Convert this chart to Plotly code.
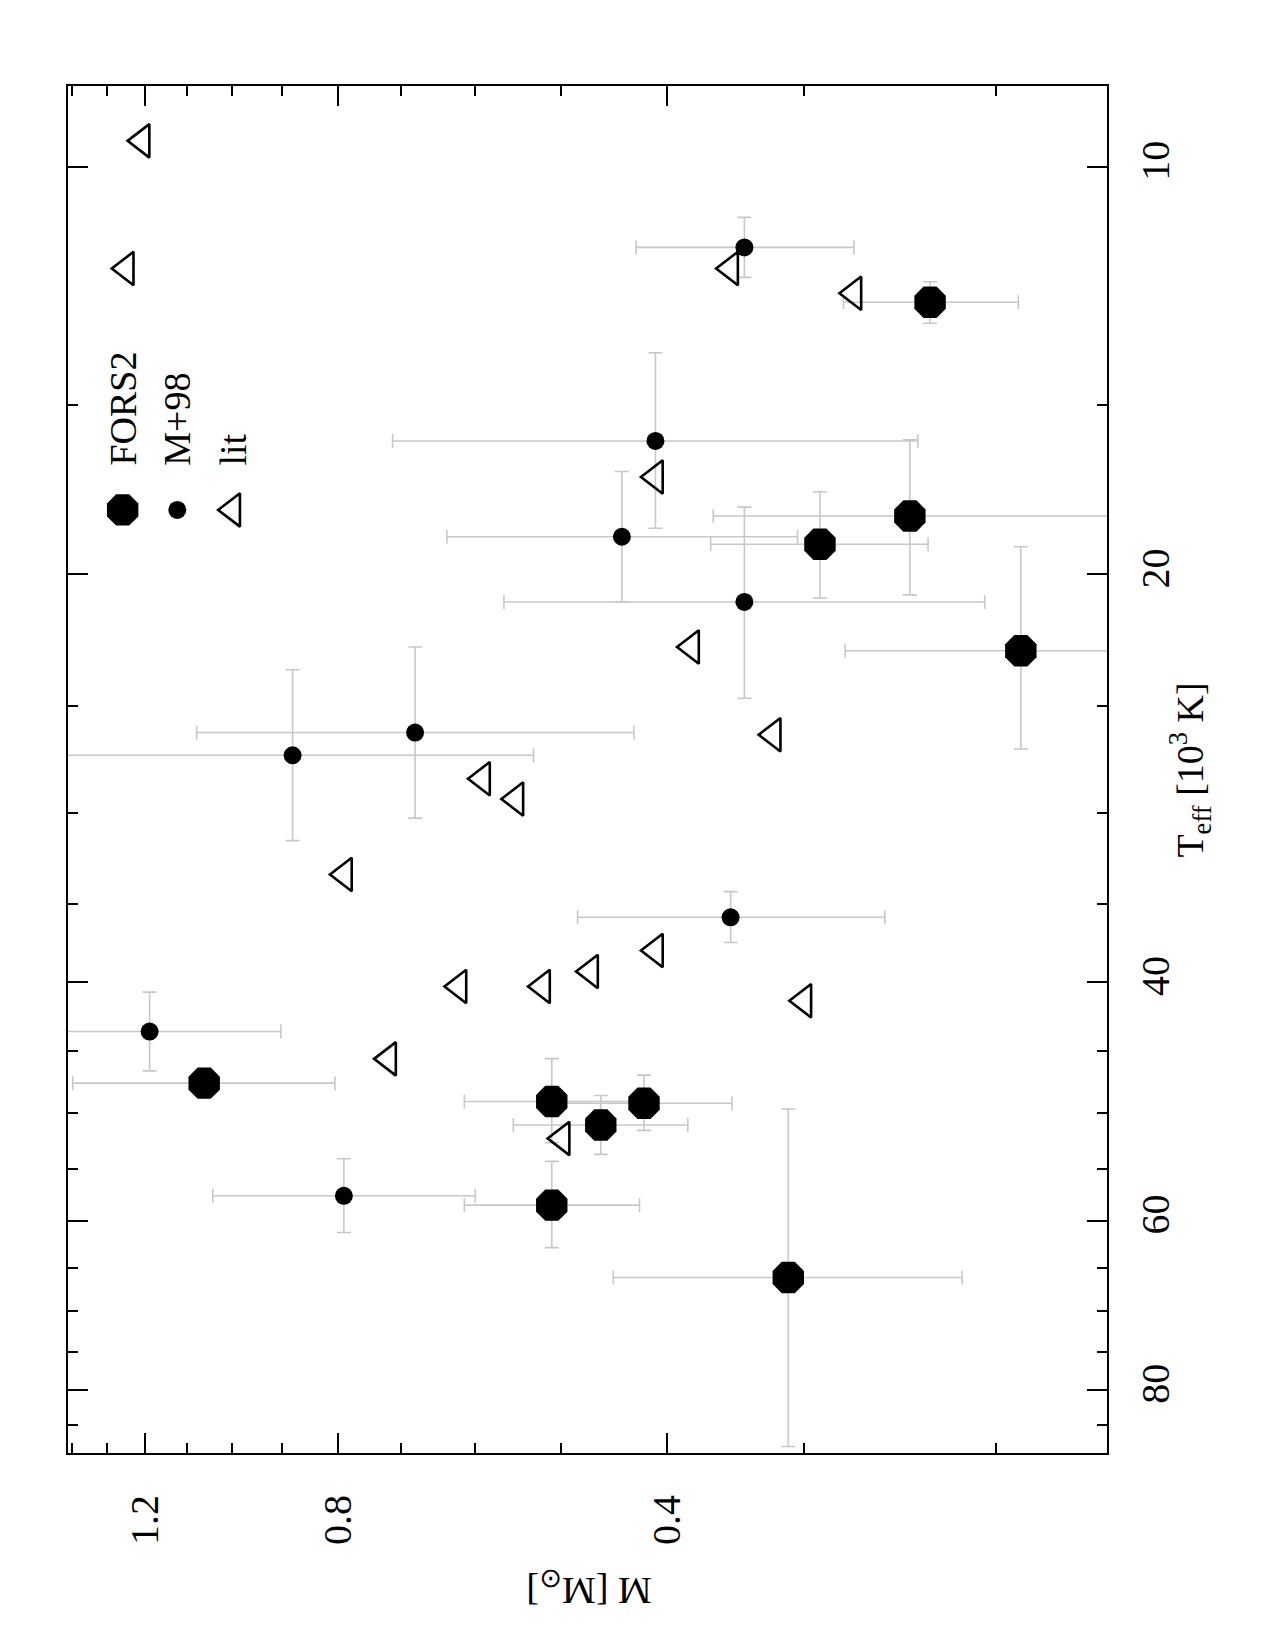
import plotly.graph_objects as go

# ---------------- data (M in solar masses, Teff in 10^3 K) ----------------
fors_M    = [0.230, 0.240, 0.290, 0.190, 1.060, 0.510, 0.420, 0.460, 0.510, 0.310]
fors_M_hi = [0.276, 0.363, 0.365, 0.275, 1.398, 0.613, 0.507, 0.553, 0.613, 0.448]
fors_M_lo = [0.191, 0.150, 0.231, 0.150, 0.805, 0.424, 0.349, 0.383, 0.424, 0.215]
fors_T    = [12.59, 18.11, 19.00, 22.77, 47.50, 49.00, 49.15, 51.00, 58.45, 66.10]
fors_T_lo = [12.16, 15.91, 17.38, 19.08, 47.50, 45.56, 46.86, 48.51, 54.26, 49.64]
fors_T_hi = [13.05, 20.71, 20.82, 26.91, 47.50, 52.56, 51.47, 53.62, 62.83, 88.10]

m98_M    = [0.340, 0.410, 0.440, 0.340, 0.680, 0.880, 0.350, 1.189, 0.790]
m98_M_hi = [0.427, 0.713, 0.636, 0.564, 1.077, 1.500, 0.483, 1.500, 1.041]
m98_M_lo = [0.270, 0.236, 0.304, 0.205, 0.429, 0.530, 0.253, 0.902, 0.599]
m98_T    = [11.47, 15.94, 18.76, 20.96, 26.17, 27.20, 35.83, 43.51, 57.53]
m98_T_lo = [10.90, 13.72, 16.79, 17.84, 22.63, 23.52, 34.30, 40.69, 54.01]
m98_T_hi = [12.07, 18.49, 20.95, 24.69, 30.27, 31.45, 37.40, 46.52, 61.23]

lit_M = [1.208, 1.249, 0.350, 0.270, 0.410, 0.380, 0.320, 0.590, 0.550,
         0.789, 0.410, 0.470, 0.520, 0.620, 0.300, 0.719, 0.499]
lit_T = [9.57, 11.89, 11.89, 12.40, 16.95, 22.63, 26.27, 28.31, 29.30,
         33.31, 37.91, 39.29, 40.30, 40.30, 41.29, 45.58, 52.18]

x_major = [1.2, 0.8, 0.4]
x_major_text = ["1.2", "0.8", "0.4"]
x_minor = [1.4, 1.3, 1.1, 1.0, 0.9, 0.7, 0.6, 0.5, 0.3, 0.2]
y_major = [10, 20, 40, 60, 80]
y_major_text = ["10", "20", "40", "60", "80"]
y_minor = [15, 25, 30, 35, 45, 50, 55, 65, 70, 75, 85]

legend_labels = ["FORS2", "M+98", "lit"]

FONT = "Liberation Serif"
ERRC = "#c8c8c8"


def errs(v, lo, hi):
    return [h - x for x, h in zip(v, hi)], [x - l for x, l in zip(v, lo)]


fig = go.Figure()

ex_p, ex_m = errs(fors_M, fors_M_lo, fors_M_hi)
ey_p, ey_m = errs(fors_T, fors_T_lo, fors_T_hi)
fig.add_trace(go.Scatter(
    x=fors_M, y=fors_T, mode="markers",
    marker=dict(symbol="octagon", size=34, color="black", line=dict(width=0)),
    error_x=dict(type="data", symmetric=False, array=ex_p, arrayminus=ex_m,
                 color=ERRC, thickness=1.6, width=7),
    error_y=dict(type="data", symmetric=False, array=ey_p, arrayminus=ey_m,
                 color=ERRC, thickness=1.6, width=7),
    showlegend=False))

ex_p, ex_m = errs(m98_M, m98_M_lo, m98_M_hi)
ey_p, ey_m = errs(m98_T, m98_T_lo, m98_T_hi)
fig.add_trace(go.Scatter(
    x=m98_M, y=m98_T, mode="markers",
    marker=dict(symbol="circle", size=18, color="black", line=dict(width=0)),
    error_x=dict(type="data", symmetric=False, array=ex_p, arrayminus=ex_m,
                 color=ERRC, thickness=1.6, width=7),
    error_y=dict(type="data", symmetric=False, array=ey_p, arrayminus=ey_m,
                 color=ERRC, thickness=1.6, width=7),
    showlegend=False))

fig.add_trace(go.Scatter(
    x=lit_M, y=lit_T, mode="markers",
    marker=dict(symbol="triangle-left-open", size=29, color="black",
                line=dict(width=2.6, color="black")),
    showlegend=False))

# legend symbols on an overlay (0..1) axis pair
leg_x = [0.0526, 0.1052, 0.1585]
leg_y = 0.6899
fig.add_trace(go.Scatter(x=[leg_x[0]], y=[leg_y], xaxis="x2", yaxis="y2", mode="markers",
                         marker=dict(symbol="octagon", size=34, color="black", line=dict(width=0)),
                         showlegend=False, hoverinfo="skip"))
fig.add_trace(go.Scatter(x=[leg_x[1]], y=[leg_y], xaxis="x2", yaxis="y2", mode="markers",
                         marker=dict(symbol="circle", size=18, color="black", line=dict(width=0)),
                         showlegend=False, hoverinfo="skip"))
fig.add_trace(go.Scatter(x=[leg_x[2]], y=[leg_y], xaxis="x2", yaxis="y2", mode="markers",
                         marker=dict(symbol="triangle-left-open", size=29, color="black",
                                     line=dict(width=2.6, color="black")),
                         showlegend=False, hoverinfo="skip"))

annotations = []
for lx, lab in zip(leg_x, legend_labels):
    annotations.append(dict(text=lab, x=lx, y=0.7206, xref="paper", yref="paper",
                            xanchor="center", yanchor="bottom", textangle=-90,
                            showarrow=False, font=dict(family=FONT, size=38, color="black")))
annotations.append(dict(text="T<sub>eff</sub> [10<sup>3</sup> K]", x=1.0796, y=0.4997,
                        xref="paper", yref="paper", xanchor="center", yanchor="middle",
                        textangle=-90, showarrow=False,
                        font=dict(family=FONT, size=38, color="black")))
annotations.append(dict(text="M [M<sub>⊙</sub>]", x=0.5018, y=-0.0992,
                        xref="paper", yref="paper", xanchor="center", yanchor="middle",
                        textangle=180, showarrow=False,
                        font=dict(family=FONT, size=38, color="black")))

axis_common = dict(showline=True, linecolor="black", linewidth=2, mirror="allticks",
                   ticks="inside", ticklen=20, tickwidth=2, tickcolor="black",
                   showgrid=False, zeroline=False, tickangle=-90,
                   tickfont=dict(family=FONT, size=40, color="black"))

fig.update_layout(
    width=1275, height=1650,
    margin=dict(l=68, r=168, t=86, b=197),
    paper_bgcolor="white", plot_bgcolor="white",
    xaxis=dict(type="log", range=[0.1498, -0.8000], tickmode="array",
               tickvals=x_major, ticktext=x_major_text, ticklabelstandoff=24,
               minor=dict(tickmode="array", tickvals=x_minor, ticks="inside",
                          ticklen=10, tickwidth=2, tickcolor="black", showgrid=False),
               **axis_common),
    yaxis=dict(type="log", range=[1.9498, 0.9404], side="right", tickmode="array",
               tickvals=y_major, ticktext=y_major_text, ticklabelstandoff=12,
               minor=dict(tickmode="array", tickvals=y_minor, ticks="inside",
                          ticklen=10, tickwidth=2, tickcolor="black", showgrid=False),
               **axis_common),
    xaxis2=dict(overlaying="x", anchor="y2", range=[0, 1], visible=False),
    yaxis2=dict(overlaying="y", anchor="x2", range=[0, 1], visible=False),
    annotations=annotations,
)

fig.write_html("out.html")
